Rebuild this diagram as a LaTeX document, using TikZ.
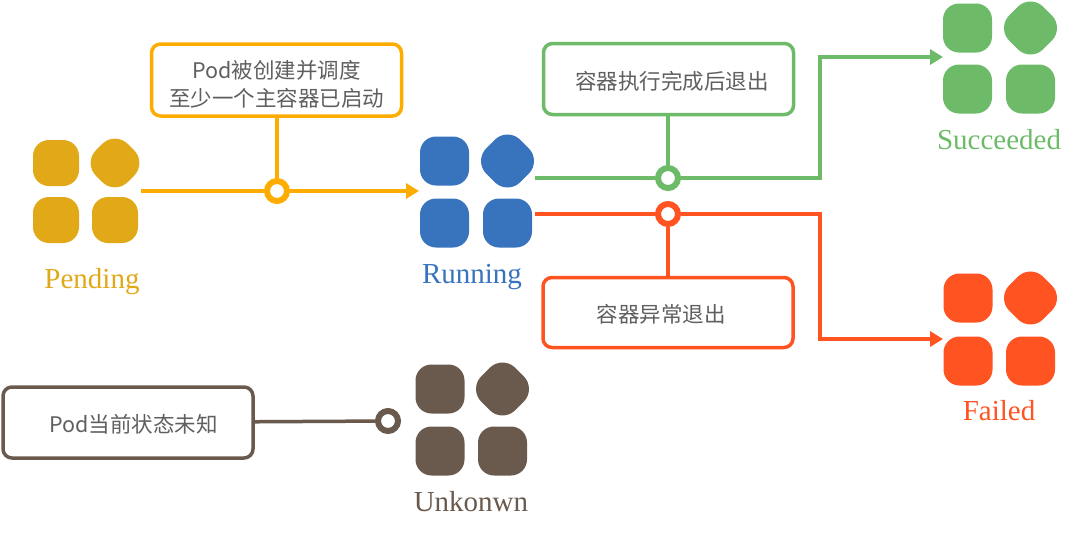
\documentclass[tikz,border=0pt]{standalone}
\usepackage{fontspec}
\setmainfont{Liberation Serif}
\newfontfamily\cjk{Noto Sans CJK SC}
\usetikzlibrary{arrows.meta}
\definecolor{tileorange}{RGB}{225,168,24}
\definecolor{tileblue}{RGB}{56,116,189}
\definecolor{tilegreen}{RGB}{109,187,105}
\definecolor{tilered}{RGB}{255,83,34}
\definecolor{tilebrown}{RGB}{106,90,77}
\definecolor{lineorange}{RGB}{255,172,0}
\definecolor{boxtext}{RGB}{95,95,95}

\begin{document}
\begin{tikzpicture}[
  x=1pt, y=-1pt,
  tile/.style={rectangle, rounded corners=16pt, inner sep=0pt},
  tiltile/.style={tile, rounded corners=18pt, rotate=45},
  msgbox/.style={rectangle, draw, fill=white, rounded corners=9pt, line width=3.5pt, inner sep=0pt, minimum width=250pt, align=center, font=\cjk\fontsize{21.5}{28}\selectfont, text=boxtext},
  ring/.style={circle, draw, fill=white, line width=6pt, inner sep=0pt, minimum size=20pt},
  state/.style={font=\fontsize{29}{32}\selectfont},
  flow/.style={line width=4pt},
  headtip/.style={-{Triangle[length=13pt,width=15pt]}}
]
\useasboundingbox (0,0) rectangle (1080,536);

% four tiles per state
\foreach \n/\c/\s/\t/\xa/\xb/\ya/\yb in {pending/tileorange/46/45/56/115/163/220, running/tileblue/49/48/444.5/507.5/161/223, succeeded/tilegreen/49/48/967.5/1030.5/28/89, failed/tilered/49/48/968/1030.5/298/361, unknown/tilebrown/49/48/440/502.5/389/451} {
  \node[tile, fill=\c, minimum size=\s pt] (\n1) at (\xa,\ya) {};
  \node[tiltile, fill=\c, minimum size=\t pt] (\n2) at (\xb,\ya) {};
  \node[tile, fill=\c, minimum size=\s pt] (\n3) at (\xa,\yb) {};
  \node[tile, fill=\c, minimum size=\s pt] (\n4) at (\xb,\yb) {};
}
\node[state, text=tileorange] (pendinglabel) at (92,282) {Pending};
\node[state, text=tileblue] (runninglabel) at (472,277.5) {Running};
\node[state, text=tilegreen] (succeededlabel) at (999,140) {Succeeded};
\node[state, text=tilered] (failedlabel) at (999,411) {Failed};
\node[state, text=tilebrown] (unknownlabel) at (471,502) {Unkonwn};

\node[msgbox, draw=lineorange, minimum height=72pt] (scheduled) at (276.5,80) {\rule{0pt}{26pt}Pod被创建并调度\\至少一个主容器已启动};
\node[msgbox, draw=tilegreen, minimum height=71pt] (finished) at (668.5,79) {\rule{0pt}{22pt}\hspace*{7pt}容器执行完成后退出};
\node[msgbox, draw=tilered, minimum height=70pt] (crashed) at (668,312.5) {\rule{0pt}{21pt}容器异常退出\hspace*{14pt}};
\node[msgbox, draw=tilebrown, minimum height=71pt] (lost) at (128,422.5) {\rule{0pt}{22pt}\hspace*{11pt}Pod当前状态未知};

\node[ring, draw=lineorange] (scheduledring) at (277,191) {};
\node[ring, draw=tilegreen] (finishedring) at (668,178) {};
\node[ring, draw=tilered] (crashedring) at (668,214) {};
\node[ring, draw=tilebrown] (lostring) at (388,421) {};

\coordinate (pendingout) at (141,191);
\coordinate (runningin) at (419,191);
\coordinate (greenout) at (535,178);
\coordinate (greenin) at (943,57);
\coordinate (redout) at (535,214);
\coordinate (redin) at (943,339);

\draw[flow, draw=lineorange] (scheduled.south -| scheduledring) -- (scheduledring);
\draw[flow, draw=lineorange] (pendingout) -- (scheduledring);
\draw[flow, draw=lineorange, headtip] (scheduledring) -- (runningin);
\draw[flow, draw=tilegreen] (finished.south -| finishedring) -- (finishedring);
\draw[flow, draw=tilegreen] (greenout) -- (finishedring);
\draw[flow, draw=tilegreen, headtip] (finishedring) -- (819.5,178) |- (greenin);
\draw[flow, draw=tilered] (crashed.north -| crashedring) -- (crashedring);
\draw[flow, draw=tilered] (redout) -- (crashedring);
\draw[flow, draw=tilered, headtip] (crashedring) -- (819.5,214) |- (redin);
\draw[flow, draw=tilebrown, line width=3.5pt] (lost) -- (lostring);
\end{tikzpicture}
\end{document}
